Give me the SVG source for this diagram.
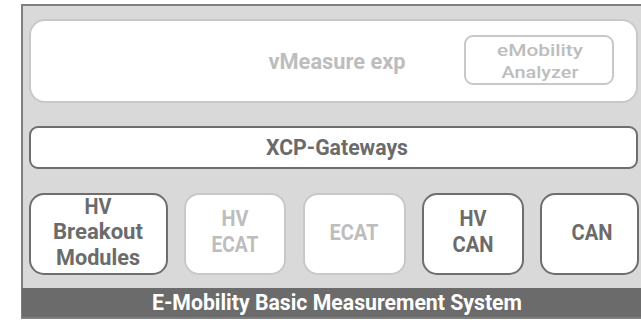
<svg xmlns="http://www.w3.org/2000/svg" width="641" height="320" viewBox="0 0 641 320">
<style>
.lbl{font-family:"Roboto","Liberation Sans",sans-serif;font-weight:bold;text-anchor:middle;font-size:22px;}
.sm{font-weight:500;font-size:17px;}
.dk{fill:#6b6b6b;}
.lt{fill:#bdbdbd;}
.bxd{fill:#ffffff;stroke:#6e6e6e;stroke-width:2;}
.bxl{fill:#ffffff;stroke:#c8c8c8;stroke-width:2;}
</style>
<rect x="0" y="0" width="641" height="320" fill="#ffffff"/>
<g id="frame">
<rect x="22" y="5" width="640" height="313" fill="#d9d9d9" stroke="#7f7f7f" stroke-width="2"/>
</g>
<g id="vmeasure">
<rect class="bxl" x="30" y="20" width="607" height="82" rx="15"/>
<text class="lbl lt" x="337" y="69" textLength="137" lengthAdjust="spacingAndGlyphs">vMeasure exp</text>
</g>
<g id="analyzer">
<rect class="bxl" x="465" y="36" width="148" height="48" rx="8"/>
<text class="lbl lt sm" x="540" y="56" textLength="86" lengthAdjust="spacingAndGlyphs">eMobility</text>
<text class="lbl lt sm" x="540" y="78" textLength="77" lengthAdjust="spacingAndGlyphs">Analyzer</text>
</g>
<g id="xcp">
<rect class="bxd" x="30" y="127" width="607" height="41" rx="8"/>
<text class="lbl dk" x="337" y="155" textLength="142" lengthAdjust="spacingAndGlyphs">XCP-Gateways</text>
</g>
<g id="hvbreakout">
<rect class="bxd" x="30" y="194" width="137" height="80" rx="14"/>
<text class="lbl dk" x="98" y="214" textLength="27" lengthAdjust="spacingAndGlyphs">HV</text>
<text class="lbl dk" x="98" y="239" textLength="90" lengthAdjust="spacingAndGlyphs">Breakout</text>
<text class="lbl dk" x="98" y="265" textLength="84" lengthAdjust="spacingAndGlyphs">Modules</text>
</g>
<g id="hvecat">
<rect class="bxl" x="185" y="194" width="100" height="80" rx="14"/>
<text class="lbl lt" x="235" y="226" textLength="27" lengthAdjust="spacingAndGlyphs">HV</text>
<text class="lbl lt" x="235" y="252" textLength="47" lengthAdjust="spacingAndGlyphs">ECAT</text>
</g>
<g id="ecat">
<rect class="bxl" x="304" y="194" width="101" height="80" rx="14"/>
<text class="lbl lt" x="354" y="240" textLength="49" lengthAdjust="spacingAndGlyphs">ECAT</text>
</g>
<g id="hvcan">
<rect class="bxd" x="423" y="194" width="100" height="80" rx="14"/>
<text class="lbl dk" x="473" y="226" textLength="27" lengthAdjust="spacingAndGlyphs">HV</text>
<text class="lbl dk" x="473" y="252" textLength="41" lengthAdjust="spacingAndGlyphs">CAN</text>
</g>
<g id="can">
<rect class="bxd" x="541" y="194" width="97" height="80" rx="14"/>
<text class="lbl dk" x="592" y="240" textLength="41" lengthAdjust="spacingAndGlyphs">CAN</text>
</g>
<g id="footer">
<rect x="22" y="288" width="620" height="29" fill="#6b6b6b"/>
<text class="lbl" x="337" y="310" fill="#ffffff" textLength="370" lengthAdjust="spacingAndGlyphs">E-Mobility Basic Measurement System</text>
</g>
<g id="connectors"></g>
</svg>
